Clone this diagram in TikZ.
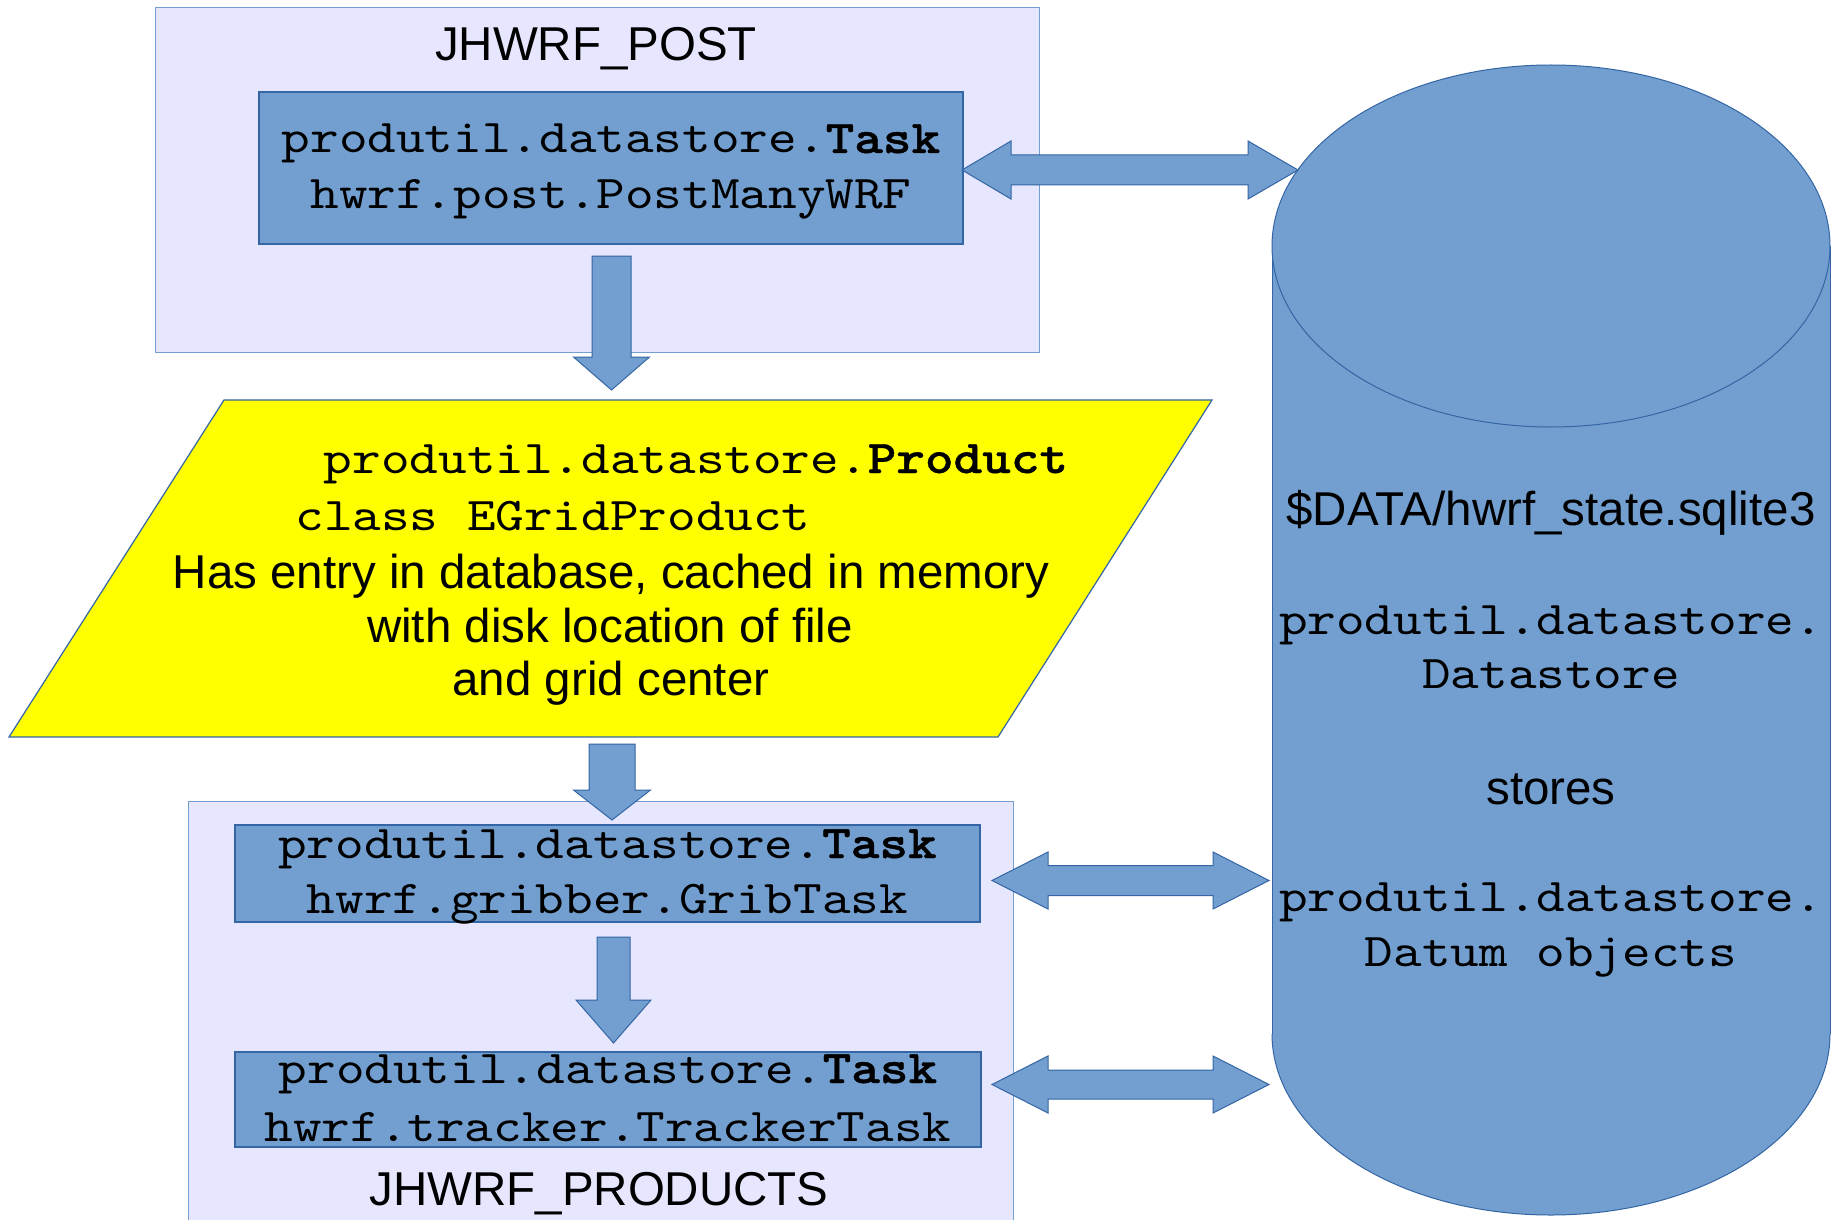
\documentclass[tikz,border=0pt]{standalone}
\usepackage{fontspec}
\setmainfont{Liberation Sans}
\setmonofont{lmmono10-regular.otf}[
  FakeStretch=1.16,
  BoldFont=lmmonolt10-bold.otf,
  BoldFeatures={FakeBold=0.9}]
\usetikzlibrary{calc}

\definecolor{lav}{HTML}{E6E6FF}
\definecolor{skyfill}{HTML}{729FCF}
\definecolor{skyline}{HTML}{3465A4}
\definecolor{yel}{HTML}{FFFF00}

\tikzset{
  groupbox/.style={draw=skyfill, fill=lav, line width=1.2pt, inner sep=0pt},
  taskbox/.style={draw=skyline, fill=skyfill, line width=1.2pt, inner sep=0pt},
  prodshape/.style={draw=skyline, fill=yel, line width=1.2pt},
  dbshape/.style={draw=skyline, fill=skyfill, line width=1pt},
  sanslabel/.style={font=\fontsize{47.5}{56}\selectfont, inner sep=0pt, anchor=base},
  monolabel/.style={font=\ttfamily\fontsize{47}{56}\selectfont, inner sep=0pt, anchor=base},
  blockarrow/.style={fill=skyfill, draw=skyline, line width=1pt, line join=miter},
}

% block arrow pointing down: start, tip, shaft half width, head half width, head length
\newcommand\downblock[5]{%
  \path[blockarrow] let \p1=(#1), \p2=(#2) in
    (\x1-#3pt,\y1) -- (\x1+#3pt,\y1) -- (\x1+#3pt,\y2+#5pt) -- (\x1+#4pt,\y2+#5pt)
    -- (\x2,\y2) -- (\x1-#4pt,\y2+#5pt) -- (\x1-#3pt,\y2+#5pt) -- cycle;
}
% two-headed horizontal block arrow: left tip, right tip, shaft half width,
% head half width, left head length, right head length
\newcommand\twoblock[6]{%
  \path[blockarrow] let \p1=(#1), \p2=(#2) in
    (\x1,\y1) -- (\x1+#5pt,\y1+#4pt) -- (\x1+#5pt,\y1+#3pt) -- (\x2-#6pt,\y1+#3pt)
    -- (\x2-#6pt,\y1+#4pt) -- (\x2,\y1) -- (\x2-#6pt,\y1-#4pt) -- (\x2-#6pt,\y1-#3pt)
    -- (\x1+#5pt,\y1-#3pt) -- (\x1+#5pt,\y1-#4pt) -- cycle;
}

\begin{document}
\begin{tikzpicture}[x=1pt, y=-1pt]
\useasboundingbox (0,0) rectangle (1832,1220);
\clip (0,0) rectangle (1832,1220);
\fill[white] (0,0) rectangle (1832,1220);

% post-processing job
\node[groupbox, anchor=north west, minimum width=884pt, minimum height=345pt] (post) at (155,7) {};
\node[sanslabel] (posttitle) at (596,61) {JHWRF\_POST};
\node[taskbox, minimum width=704pt, minimum height=152pt] (t1) at (611,168) {};
\node[monolabel] (t1a) at (611,153) {produtil.datastore.\textbf{Task}};
\node[monolabel] (t1b) at (611,208) {hwrf.post.PostManyWRF};

% product description
\draw[prodshape] (224,400) -- (1212,400) -- (998,737) -- (9,737) -- cycle;
\node[monolabel] (prodA) at (696,473) {produtil.datastore.\textbf{Product}};
\node[monolabel] (prodB) at (553,530) {class EGridProduct};
\node[sanslabel] (prodC) at (611,588) {Has entry in database, cached in memory};
\node[sanslabel] (prodD) at (610,642) {with disk location of file};
\node[sanslabel] (prodE) at (611,695) {and grid center};

% products job
\node[groupbox, anchor=north west, minimum width=825pt, minimum height=440pt] (products) at (188,801) {};
\node[taskbox, minimum width=745pt, minimum height=97pt] (t2) at (607.5,873.5) {};
\node[monolabel] (t2a) at (607.5,858) {produtil.datastore.\textbf{Task}};
\node[monolabel] (t2b) at (607.5,913) {hwrf.gribber.GribTask};
\node[taskbox, minimum width=746pt, minimum height=95pt] (t3) at (608,1099.5) {};
\node[monolabel] (t3a) at (608,1083) {produtil.datastore.\textbf{Task}};
\node[monolabel] (t3b) at (608,1141) {hwrf.tracker.TrackerTask};
\node[sanslabel] (prodtitle) at (599,1205) {JHWRF\_PRODUCTS};

% database cylinder
\fill[skyfill] (1272,246) rectangle (1830,1034);
\fill[skyfill] (1551,1034) ellipse [x radius=279, y radius=181];
\draw[skyline, line width=1pt] (1272,246) -- (1272,1034);
\draw[skyline, line width=1pt] (1830,246) -- (1830,1034);
\begin{scope}
  \clip (1260,1034) rectangle (1840,1230);
  \draw[skyline, line width=1pt] (1551,1034) ellipse [x radius=279, y radius=181];
\end{scope}
\draw[dbshape] (1551,246) ellipse [x radius=279, y radius=181];

\node[sanslabel] (db) at (1551,525) {\$DATA/hwrf\_state.sqlite3};
\node[monolabel] (dbA) at (1551,634) {produtil.datastore.};
\node[monolabel] (dbB) at (1551,688) {Datastore};
\node[sanslabel] (dbC) at (1551,804) {stores};
\node[monolabel] (dbD) at (1551,911) {produtil.datastore.};
\node[monolabel] (dbE) at (1551,966) {Datum objects};

% flow arrows
\coordinate (a1s) at (611.5,256);  \coordinate (a1e) at (611.5,390);
\coordinate (a2s) at (612,744);    \coordinate (a2e) at (612,820);
\coordinate (a3s) at (613.5,937);  \coordinate (a3e) at (613.5,1043);
\downblock{a1s}{a1e}{19.5}{38}{33}
\downblock{a2s}{a2e}{23}{38.5}{30}
\downblock{a3s}{a3e}{16.5}{37.5}{43}

% datastore access arrows
\coordinate (d1l) at (962,170);    \coordinate (d1r) at (1298,170);
\coordinate (d2l) at (992,880.5);  \coordinate (d2r) at (1269,880.5);
\coordinate (d3l) at (992,1084.5); \coordinate (d3r) at (1269,1084.5);
\twoblock{d1l}{d1r}{15}{29}{49}{50}
\twoblock{d2l}{d2r}{15}{28.5}{56}{56}
\twoblock{d3l}{d3r}{14.5}{28.5}{56}{56}
\end{tikzpicture}
\end{document}
